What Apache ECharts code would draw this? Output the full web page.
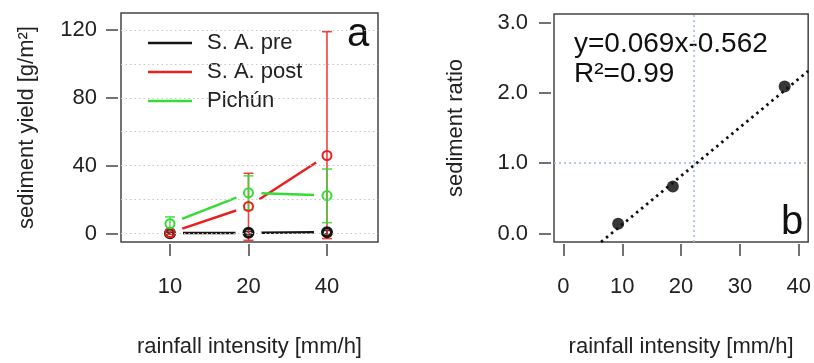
<!DOCTYPE html>
<html>
<head>
<meta charset="utf-8">
<script src="https://cdn.jsdelivr.net/npm/echarts@6/dist/echarts.min.js"></script>
<style>
  html, body { margin: 0; padding: 0; background: #fff; }
  #chart { width: 814px; height: 363px; }
</style>
</head>
<body>
<div id="chart"></div>
<script>
// panel a: sediment yield per rainfall intensity
const rainCategories = ["10", "20", "40"];
const rainPositions = [1, 2, 3];
const yieldGridLines = [0, 20, 40, 60, 80, 100, 120];
const yieldTicks = [0, 40, 80, 120];

const saPre = [0.2, 0.4, 0.8];
const saPreLow = [0, -0.4, -0.2];
const saPreHigh = [0.5, 1.2, 1.8];

const saPost = [0.4, 16, 46];
const saPostLow = [-0.5, -4, -3];
const saPostHigh = [1.2, 35.5, 119];

const pichun = [5.8, 24, 22.4];
const pichunLow = [2, 14, 6.4];
const pichunHigh = [9.8, 34, 38];

// panel b: sediment ratio vs rainfall intensity
const ratioX = [9.3, 18.6, 37.6];
const ratioY = [0.14, 0.67, 2.09];
const fitLine = [[6.4, -0.12], [41.6, 2.31]];
const refX = 22.1;
const refY = 1.0;
const ratioXTicks = [0, 10, 20, 30, 40];
const ratioYTicks = [0, 1, 2, 3];

const FONT = "'Liberation Sans', Arial, Helvetica, sans-serif";
const TEXT = "#222";
const AXIS = "#444";
const colors = { pre: "#151515", post: "#e8201e", pichun: "#34dc34" };

const series_ = [
  { name: "S. A. pre", key: "pre", values: saPre, low: saPreLow, high: saPreHigh, border: 3 },
  { name: "S. A. post", key: "post", values: saPost, low: saPostLow, high: saPostHigh, border: 2 },
  { name: "Pichún", key: "pichun", values: pichun, low: pichunLow, high: pichunHigh, border: 2 },
];

// line segments with a gap around each point, like R type = "b"
function segmentRenderer(color) {
  return (params, api) => {
    const a = api.coord([api.value(0), api.value(1)]);
    const b = api.coord([api.value(2), api.value(3)]);
    const dx = b[0] - a[0], dy = b[1] - a[1];
    const len = Math.hypot(dx, dy);
    const gap = 13;
    if (len <= gap * 2) return null;
    const ux = dx / len, uy = dy / len;
    return {
      type: "line",
      shape: { x1: a[0] + ux * gap, y1: a[1] + uy * gap, x2: b[0] - ux * gap, y2: b[1] - uy * gap },
      style: { stroke: color, lineWidth: 2.5 },
    };
  };
}

function errorBarRenderer(color) {
  return (params, api) => {
    const lo = api.coord([api.value(0), api.value(1)]);
    const hi = api.coord([api.value(0), api.value(2)]);
    const cap = 5;
    const style = { stroke: color, lineWidth: 1.6, opacity: 0.85 };
    return {
      type: "group",
      children: [
        { type: "line", shape: { x1: lo[0], y1: lo[1], x2: hi[0], y2: hi[1] }, style },
        { type: "line", shape: { x1: lo[0] - cap, y1: lo[1], x2: lo[0] + cap, y2: lo[1] }, style },
        { type: "line", shape: { x1: hi[0] - cap, y1: hi[1], x2: hi[0] + cap, y2: hi[1] }, style },
      ],
    };
  };
}

const panelASeries = [];
series_.forEach((s) => {
  const color = colors[s.key];
  const segments = [];
  for (let i = 0; i < s.values.length - 1; i++) {
    segments.push([rainPositions[i], s.values[i], rainPositions[i + 1], s.values[i + 1]]);
  }
  panelASeries.push({
    name: s.name,
    type: "custom",
    xAxisIndex: 0,
    yAxisIndex: 0,
    itemStyle: { color },
    renderItem: segmentRenderer(color),
    encode: { x: [0, 2], y: [1, 3] },
    data: segments,
    silent: true,
  });
  panelASeries.push({
    type: "custom",
    xAxisIndex: 0,
    yAxisIndex: 0,
    renderItem: errorBarRenderer(color),
    encode: { x: 0, y: [1, 2] },
    data: rainPositions.map((x, i) => [x, s.low[i], s.high[i]]),
    silent: true,
  });
  panelASeries.push({
    type: "scatter",
    xAxisIndex: 0,
    yAxisIndex: 0,
    symbol: "circle",
    symbolSize: 9,
    itemStyle: { color: "rgba(0,0,0,0)", borderColor: color, borderWidth: s.border, opacity: 1 },
    data: rainPositions.map((x, i) => [x, s.values[i]]),
    silent: true,
  });
});

const chart = echarts.init(document.getElementById("chart"), null, { renderer: "canvas" });

// axis line kept on but invisible so the outside ticks still render
const hiddenLine = { show: true, onZero: false, lineStyle: { color: "rgba(0,0,0,0)", width: 0 } };
const tickStyle = { show: true, inside: false, length: 12, lineStyle: { color: AXIS, width: 1.5 } };
const labelStyle = { color: TEXT, fontSize: 22, fontFamily: FONT };
const nameStyle = { color: TEXT, fontSize: 22, fontFamily: FONT };

chart.setOption({
  animation: false,
  backgroundColor: "#fff",
  textStyle: { fontFamily: FONT },
  grid: [
    { left: 121, top: 13, width: 257, height: 232, show: true, borderColor: "#444", borderWidth: 1.5, backgroundColor: "transparent" },
    { left: 554, top: 14, width: 255, height: 231, show: true, borderColor: "#444", borderWidth: 1.5, backgroundColor: "transparent" },
  ],
  legend: {
    left: 143,
    top: 24,
    orient: "vertical",
    itemWidth: 44,
    itemHeight: 2.5,
    itemGap: 1,
    icon: "rect",
    data: series_.map((s) => s.name),
    textStyle: { color: TEXT, fontSize: 22, fontFamily: FONT, lineHeight: 28, padding: [0, 0, 0, 10] },
    selectedMode: false,
  },
  xAxis: [
    {
      gridIndex: 0,
      type: "value",
      min: 0.376,
      max: 3.65,
      offset: 2,
      axisLine: hiddenLine,
      axisTick: { ...tickStyle, customValues: rainPositions },
      axisLabel: {
        ...labelStyle,
        margin: 32,
        customValues: rainPositions,
        formatter: (v) => rainCategories[rainPositions.indexOf(v)] ?? "",
      },
      splitLine: { show: false },
      name: "rainfall intensity [mm/h]",
      nameLocation: "middle",
      nameGap: 92,
      nameTextStyle: nameStyle,
    },
    {
      gridIndex: 1,
      type: "value",
      min: -1.6,
      max: 41.6,
      offset: 2,
      axisLine: hiddenLine,
      axisTick: { ...tickStyle, customValues: ratioXTicks },
      axisLabel: { ...labelStyle, margin: 32, customValues: ratioXTicks },
      splitLine: { show: false },
      name: "rainfall intensity [mm/h]",
      nameLocation: "middle",
      nameGap: 92,
      nameTextStyle: nameStyle,
    },
  ],
  yAxis: [
    {
      gridIndex: 0,
      type: "value",
      min: -5,
      max: 130,
      offset: 3,
      axisLine: hiddenLine,
      axisTick: { ...tickStyle, customValues: yieldTicks },
      axisLabel: { ...labelStyle, margin: 21, customValues: yieldTicks },
      splitLine: { show: false },
      name: "sediment yield [g/m²]",
      nameLocation: "middle",
      nameGap: 80,
      nameTextStyle: nameStyle,
    },
    {
      gridIndex: 1,
      type: "value",
      min: -0.12,
      max: 3.12,
      offset: 3,
      axisLine: hiddenLine,
      axisTick: { ...tickStyle, customValues: ratioYTicks },
      axisLabel: { ...labelStyle, margin: 23, customValues: ratioYTicks, formatter: (v) => v.toFixed(1) },
      splitLine: { show: false },
      name: "sediment ratio",
      nameLocation: "middle",
      nameGap: 84,
      nameTextStyle: nameStyle,
    },
  ],
  series: [
    {
      type: "line",
      xAxisIndex: 0,
      yAxisIndex: 0,
      data: [],
      silent: true,
      markLine: {
        symbol: "none",
        silent: true,
        label: { show: false },
        lineStyle: { color: "#c8c8c8", type: [1.5, 3], width: 1.2 },
        data: yieldGridLines.map((v) => ({ yAxis: v })),
      },
    },
    ...panelASeries,
    {
      type: "line",
      xAxisIndex: 1,
      yAxisIndex: 1,
      data: [],
      silent: true,
      markLine: {
        symbol: "none",
        silent: true,
        label: { show: false },
        lineStyle: { color: "#9dbbe0", type: [2, 3], width: 1.5 },
        data: [{ xAxis: refX }, { yAxis: refY }],
      },
    },
    {
      type: "line",
      xAxisIndex: 1,
      yAxisIndex: 1,
      data: fitLine,
      showSymbol: false,
      lineStyle: { color: "#111", width: 2.8, type: [2.5, 4] },
      silent: true,
    },
    {
      type: "scatter",
      xAxisIndex: 1,
      yAxisIndex: 1,
      symbol: "circle",
      symbolSize: 12,
      itemStyle: { color: "#050505" },
      data: ratioX.map((x, i) => [x, ratioY[i]]),
      silent: true,
    },
  ],
  graphic: [
    { type: "text", left: 347, top: 15, style: { text: "a", fontSize: 40, fontFamily: FONT, fill: "#111" } },
    { type: "text", left: 781, top: 203, style: { text: "b", fontSize: 40, fontFamily: FONT, fill: "#111" } },
    {
      type: "text",
      left: 574,
      top: 29,
      style: { text: "y=0.069x-0.562\nR²=0.99", fontSize: 28, lineHeight: 30, fontFamily: FONT, fill: "#111" },
    },
  ],
});
</script>
</body>
</html>
